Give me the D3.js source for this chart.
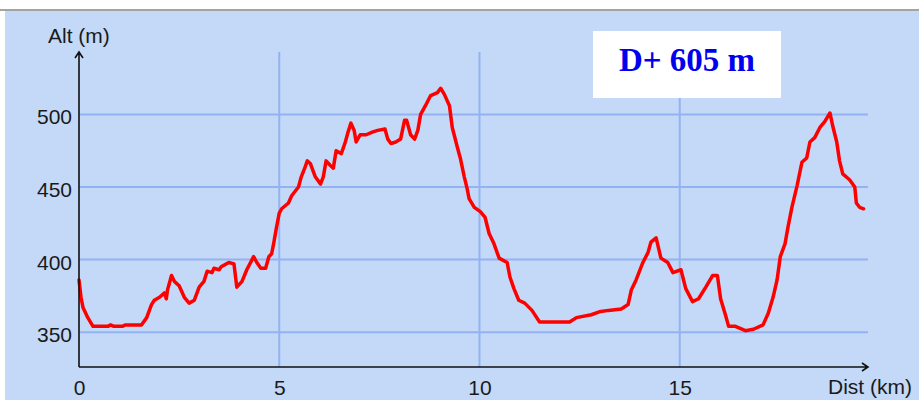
<!DOCTYPE html>
<html>
<head>
<meta charset="utf-8">
<script src="https://cdn.jsdelivr.net/npm/d3@7"></script>
<style>
  body { margin: 0; background: #ffffff; }
</style>
</head>
<body>
<div id="profile-div"></div>
<script>
// distance (km) and altitude (m)
var dist = [0, 0.05, 0.10, 0.22, 0.35, 0.72, 0.79, 0.87, 1.09, 1.15, 1.56, 1.69, 1.81, 1.88, 2.01, 2.13, 2.18, 2.21, 2.31, 2.38,
  2.50, 2.63, 2.75, 2.88, 3.00, 3.12, 3.20, 3.32, 3.37, 3.50, 3.55, 3.74, 3.87, 3.94, 4.07, 4.19, 4.36, 4.44, 4.54, 4.66,
  4.74, 4.81, 4.86, 4.93, 5.00, 5.06, 5.23, 5.31, 5.48, 5.55, 5.65, 5.70, 5.78, 5.90, 6.03, 6.10, 6.17, 6.27, 6.35, 6.42,
  6.55, 6.65, 6.72, 6.79, 6.87, 6.92, 7.02, 7.17, 7.34, 7.46, 7.64, 7.71, 7.79, 7.91, 8.03, 8.13, 8.18, 8.28, 8.38, 8.46,
  8.53, 8.65, 8.78, 8.95, 9.03, 9.12, 9.25, 9.32, 9.45, 9.52, 9.62, 9.69, 9.74, 9.87, 10.02, 10.14, 10.24, 10.36, 10.49, 10.69,
  10.76, 10.86, 10.98, 11.13, 11.31, 11.50, 12.25, 12.42, 12.79, 12.99, 13.22, 13.54, 13.71, 13.79, 13.91, 14.08, 14.21, 14.28, 14.41, 14.53,
  14.70, 14.83, 15.03, 15.15, 15.32, 15.47, 15.65, 15.82, 15.94, 16.02, 16.14, 16.22, 16.39, 16.64, 16.84, 17.08, 17.21, 17.33, 17.43, 17.51,
  17.63, 17.70, 17.80, 17.93, 18.05, 18.17, 18.25, 18.37, 18.50, 18.62, 18.75, 18.82, 18.92, 18.99, 19.07, 19.24, 19.37, 19.41, 19.49, 19.59];
var alt = [386, 374, 367, 360, 354, 354, 355, 354, 354, 355, 355, 360, 369, 372, 374, 377, 373, 379, 389, 385,
  382, 374, 370, 372, 381, 385, 392, 391, 394, 393, 395, 398, 397, 381, 385, 393, 402, 398, 394, 394,
  402, 404, 411, 422, 432, 435, 439, 444, 450, 457, 464, 468, 466, 457, 452, 457, 468, 465, 463, 475,
  473, 481, 488, 494, 489, 481, 486, 486, 488, 489, 490, 483, 480, 481, 483, 496, 496, 486, 483, 489,
  500, 506, 513, 515, 518, 514, 506, 491, 477, 470, 457, 449, 442, 436, 433, 429, 418, 411, 401, 398,
  388, 380, 372, 370, 365, 357, 357, 360, 362, 364, 365, 366, 369, 379, 386, 398, 405, 412, 415, 401,
  398, 391, 393, 380, 371, 373, 381, 389, 389, 373, 362, 354, 354, 351, 352, 355, 363, 374, 386, 402,
  411, 422, 436, 451, 467, 470, 481, 484, 491, 495, 501, 492, 481, 468, 459, 455, 450, 439, 436, 435];

var xTicks = [0, 5, 10, 15];
var yTicks = [350, 400, 450, 500];
var xTitle = "Dist (km)";
var yTitle = "Alt (m)";
var gainLabel = "D+ 605 m";

var data = dist.map((d, i) => ({ dist: d, alt: alt[i] }));

var W = 919, H = 400;
var pLeft = 79, pBottom = 367, pTop = 52, pRight = 868;

var svg = d3.select("#profile-div")
  .append("svg")
    .attr("width", W)
    .attr("height", H)
    .style("display", "block");

// background panel with grey top border
svg.append("rect")
  .attr("x", 5).attr("y", 10)
  .attr("width", W - 5).attr("height", H - 10)
  .attr("fill", "#c3d9f7");
svg.append("line")
  .attr("x1", 0).attr("x2", W)
  .attr("y1", 10).attr("y2", 10)
  .attr("stroke", "#a3a3a3")
  .attr("stroke-width", 2);

var x = d3.scaleLinear()
  .domain([0, 20])
  .range([pLeft, 880]);

var y = d3.scaleLinear()
  .domain([326, 543])
  .range([pBottom, pTop]);

var gridColor = "#93b2f2";

// horizontal grid
svg.append("g")
  .selectAll("line")
  .data(yTicks)
  .join("line")
    .attr("x1", pLeft).attr("x2", pRight)
    .attr("y1", (d) => y(d)).attr("y2", (d) => y(d))
    .attr("stroke", gridColor)
    .attr("stroke-width", 2);

// vertical grid (not at 0)
svg.append("g")
  .selectAll("line")
  .data(xTicks.filter((d) => d > 0))
  .join("line")
    .attr("x1", (d) => x(d)).attr("x2", (d) => x(d))
    .attr("y1", pTop).attr("y2", pBottom)
    .attr("stroke", gridColor)
    .attr("stroke-width", 2);

// tick labels through d3 axes
var gy = svg.append("g")
  .attr("transform", "translate(" + pLeft + ",0)")
  .call(d3.axisLeft(y).tickValues(yTicks).tickSize(0).tickPadding(7));
var gx = svg.append("g")
  .attr("transform", "translate(0," + pBottom + ")")
  .call(d3.axisBottom(x).tickValues(xTicks).tickSize(0));

[gy, gx].forEach((g) => {
  g.select(".domain").remove();
  g.selectAll("text")
    .attr("font-family", "Liberation Sans, Arial, sans-serif")
    .attr("font-size", 21)
    .attr("fill", "#1a1a1a");
});
gy.selectAll("text").attr("dy", "0.45em");
gx.selectAll("text").attr("dy", null).attr("y", 28);

// the profile
svg.append("path")
  .datum(data)
  .attr("fill", "none")
  .attr("stroke", "#ff0000")
  .attr("stroke-width", 3.5)
  .attr("stroke-linejoin", "round")
  .attr("stroke-linecap", "round")
  .attr("d", d3.line()
    .x((d) => x(d.dist))
    .y((d) => y(d.alt)));

// axes with arrows
svg.append("path")
  .attr("fill", "none")
  .attr("stroke", "#111")
  .attr("stroke-width", 1.6)
  .attr("d", "M" + pLeft + "," + pBottom + "V" + pTop +
    "M" + (pLeft - 4) + "," + (pTop + 6) + "L" + pLeft + "," + pTop + "L" + (pLeft + 4) + "," + (pTop + 6) +
    "M" + pLeft + "," + pBottom + "H" + pRight +
    "M" + (pRight - 6) + "," + (pBottom - 4) + "L" + pRight + "," + pBottom + "L" + (pRight - 6) + "," + (pBottom + 4));

// axis titles
svg.append("text")
  .attr("x", 48).attr("y", 43)
  .attr("font-family", "Liberation Sans, Arial, sans-serif")
  .attr("font-size", 21)
  .attr("fill", "#1a1a1a")
  .text(yTitle);
svg.append("text")
  .attr("x", 828).attr("y", 394)
  .attr("font-family", "Liberation Sans, Arial, sans-serif")
  .attr("font-size", 21)
  .attr("fill", "#1a1a1a")
  .text(xTitle);

// elevation gain box
svg.append("rect")
  .attr("x", 593).attr("y", 31)
  .attr("width", 188).attr("height", 67)
  .attr("fill", "#ffffff");
svg.append("text")
  .attr("x", 687).attr("y", 71)
  .attr("text-anchor", "middle")
  .attr("font-family", "Liberation Serif, Times New Roman, serif")
  .attr("font-weight", "bold")
  .attr("font-size", 33)
  .attr("fill", "#0000ee")
  .text(gainLabel);
</script>
</body>
</html>
